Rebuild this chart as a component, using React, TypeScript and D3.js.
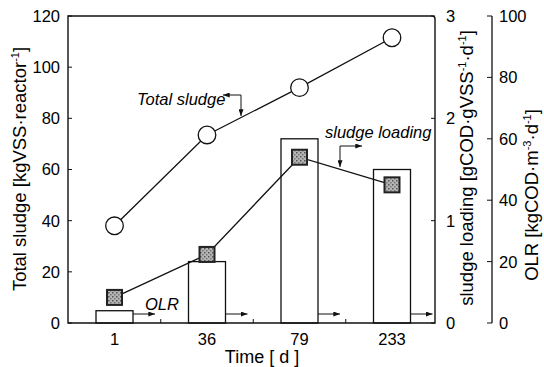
import React from 'react';
import * as d3 from 'd3';

// time points (days) and the three series
const days = ['1', '36', '79', '233'];
const totalSludge = [38, 73.5, 92, 111.5]; // kgVSS/reactor, left axis
const sludgeLoading = [0.25, 0.67, 1.62, 1.35]; // gCOD/gVSS/d, right axis
const olr = [4, 20, 60, 50]; // kgCOD/m3/d, far right axis (bars)

const sludgeTicks = [0, 20, 40, 60, 80, 100, 120];
const loadingTicks = [0, 1, 2, 3];
const olrTicks = [0, 20, 40, 60, 80, 100];

const W = 544;
const H = 367;
const margin = { top: 16, right: 435, bottom: 323, left: 68 };
const olrAxisX = 492;
const font = '"Liberation Sans", Arial, sans-serif';

const App = () => {
  const x = d3.scalePoint<string>().domain(days).range([114.5, 392]);
  const ySludge = d3.scaleLinear().domain([0, 120]).range([margin.bottom, margin.top]);
  const yLoad = d3.scaleLinear().domain([0, 3]).range([margin.bottom, margin.top]);
  const yOlr = d3.scaleLinear().domain([0, 100]).range([margin.bottom, margin.top]);
  const barW = 37;

  const sludgeLine = d3.line<number>()
    .x((d, i) => x(days[i])!)
    .y(d => ySludge(d));
  const loadLine = d3.line<number>()
    .x((d, i) => x(days[i])!)
    .y(d => yLoad(d));

  // midpoints between categories get a small tick on the time axis
  const mids = days.slice(1).map((d, i) => (x(days[i])! + x(d)!) / 2);

  const stroke = '#111';
  const titleSize = 18.5;

  return (
    <svg width={W} height={H} style={{ position: 'absolute', left: 0, top: 0, background: 'white', fontFamily: font }}>
      <defs>
        <marker id="ah" viewBox="0 0 8 6" refX="8" refY="3" markerWidth="7" markerHeight="5" orient="auto" markerUnits="userSpaceOnUse">
          <path d="M0,0 L8,3 L0,6 z" fill={stroke} />
        </marker>
        <pattern id="speck" width="4" height="4" patternUnits="userSpaceOnUse">
          <rect width="4" height="4" fill="#b5b5b5" />
          <rect x="0" y="0" width="1.5" height="1.5" fill="#555" />
          <rect x="2" y="2" width="1.5" height="1.5" fill="#777" />
        </pattern>
      </defs>

      {/* OLR bars */}
      {olr.map((v, i) => (
        <rect key={'b' + i} x={x(days[i])! - barW / 2} y={yOlr(v)} width={barW} height={margin.bottom - yOlr(v)}
          fill="white" stroke={stroke} strokeWidth={1.3} />
      ))}
      {/* little OLR arrows beside each bar */}
      {olr.map((v, i) => (
        <line key={'a' + i} x1={x(days[i])! + barW / 2} x2={x(days[i])! + barW / 2 + 22} y1={314} y2={314}
          stroke={stroke} strokeWidth={1} markerEnd="url(#ah)" />
      ))}

      {/* frame: left axis, top, right (sludge loading) axis, bottom */}
      <path d={`M${margin.left},${margin.top} L${margin.right - 3},${margin.top} Q${margin.right},${margin.top} ${margin.right},${margin.top + 3} L${margin.right},${margin.bottom} L${margin.left},${margin.bottom} Z`}
        fill="none" stroke={stroke} strokeWidth={1.4} />

      {/* left axis */}
      {sludgeTicks.map(t => (
        <g key={'ls' + t}>
          <line x1={margin.left} x2={margin.left + 4} y1={ySludge(t)} y2={ySludge(t)} stroke={stroke} />
          <text x={60} y={ySludge(t)} dy="0.36em" textAnchor="end" fontSize={16.5}>{t}</text>
        </g>
      ))}
      <text transform={`translate(26,169) rotate(-90)`} textAnchor="middle" fontSize={titleSize}>
        Total sludge [kgVSS·reactor<tspan dy="-7" fontSize={11}>-1</tspan><tspan dy="7">]</tspan>
      </text>

      {/* sludge loading axis */}
      {loadingTicks.map(t => (
        <g key={'rl' + t}>
          <line x1={margin.right - 4} x2={margin.right} y1={yLoad(t)} y2={yLoad(t)} stroke={stroke} />
          <text x={446} y={yLoad(t)} dy="0.36em" textAnchor="start" fontSize={16.5}>{t}</text>
        </g>
      ))}
      <text transform={`translate(473,168) rotate(-90)`} textAnchor="middle" fontSize={titleSize}>
        sludge loading [gCOD·gVSS<tspan dy="-7" fontSize={11}>-1</tspan><tspan dy="7">·d</tspan><tspan dy="-7" fontSize={11}>-1</tspan><tspan dy="7">]</tspan>
      </text>

      {/* OLR axis */}
      <line x1={olrAxisX} x2={olrAxisX} y1={margin.top} y2={margin.bottom} stroke={stroke} strokeWidth={1.3} />
      {olrTicks.map(t => (
        <g key={'ro' + t}>
          <line x1={olrAxisX - 5} x2={olrAxisX} y1={yOlr(t)} y2={yOlr(t)} stroke={stroke} />
          <text x={499} y={yOlr(t)} dy="0.36em" textAnchor="start" fontSize={16.5}>{t}</text>
        </g>
      ))}
      <text transform={`translate(538,195) rotate(-90)`} textAnchor="middle" fontSize={titleSize}>
        OLR [kgCOD·m<tspan dy="-7" fontSize={11}>-3</tspan><tspan dy="7">·d</tspan><tspan dy="-7" fontSize={11}>-1</tspan><tspan dy="7">]</tspan>
      </text>

      {/* time axis */}
      {mids.map((m, i) => (
        <line key={'m' + i} x1={m} x2={m} y1={margin.bottom} y2={margin.bottom - 4} stroke={stroke} />
      ))}
      {days.map(d => (
        <text key={'x' + d} x={x(d)} y={339} dy="0.36em" textAnchor="middle" fontSize={16.5}>{d}</text>
      ))}
      <text x={262} y={357} dy="0.36em" textAnchor="middle" fontSize={18}>Time [ d ]</text>

      {/* series lines and markers */}
      <path d={sludgeLine(totalSludge) || ''} fill="none" stroke={stroke} strokeWidth={1.3} />
      <path d={loadLine(sludgeLoading) || ''} fill="none" stroke={stroke} strokeWidth={1.3} />
      {totalSludge.map((v, i) => (
        <circle key={'c' + i} cx={x(days[i])} cy={ySludge(v)} r={8.8} fill="white" stroke={stroke} strokeWidth={1.3} />
      ))}
      {sludgeLoading.map((v, i) => (
        <rect key={'s' + i} x={x(days[i])! - 7.5} y={yLoad(v) - 7.5} width={15} height={15}
          fill="url(#speck)" stroke="#222" strokeWidth={2} />
      ))}

      {/* annotations */}
      <text x={137} y={105} fontSize={16.5} fontStyle="italic">Total sludge</text>
      <line x1={241} y1={95} x2={223} y2={95} stroke={stroke} markerEnd="url(#ah)" />
      <line x1={241} y1={95} x2={241} y2={116} stroke={stroke} markerEnd="url(#ah)" />

      <text x={325} y={138} fontSize={16.5} fontStyle="italic">sludge loading</text>
      <line x1={340} y1={146} x2={362} y2={146} stroke={stroke} markerEnd="url(#ah)" />
      <line x1={340} y1={146} x2={340} y2={167} stroke={stroke} markerEnd="url(#ah)" />

      <text x={145} y={310} fontSize={16.5} fontStyle="italic">OLR</text>
    </svg>
  );
};

export default App;
